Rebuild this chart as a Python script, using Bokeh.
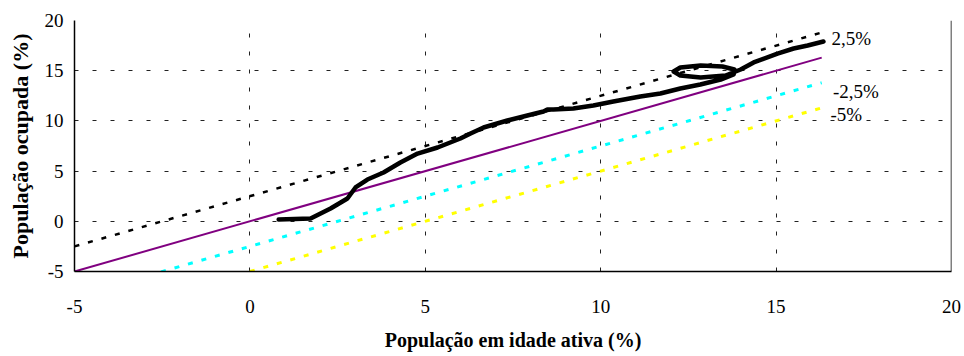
from bokeh.plotting import figure
from bokeh.models import Range1d, FixedTicker, Label, Span
from bokeh.embed import file_html
from bokeh.resources import INLINE

# ---- data ----
x_ticks = [-5, 0, 5, 10, 15, 20]
y_ticks = [-5, 0, 5, 10, 15, 20]
tick_text = {-5: "-5", 0: "0", 5: "5", 10: "10", 15: "15", 20: "20"}

# reference lines (endpoints)
ref_pos_x = [-5, 16.3]
ref_pos_y = [-2.5, 18.8]      # +2,5%
ref_zero_x = [-5, 16.3]
ref_zero_y = [-5, 16.3]       # 0%
ref_neg25_x = [-3.3, 16.3]
ref_neg25_y = [-5.8, 13.8]    # -2,5%
ref_neg5_x = [0, 16.3]
ref_neg5_y = [-5, 11.3]       # -5%

# observed path
curve_x = [0.82, 1.73, 2.30, 2.78, 3.01, 3.35, 3.81, 4.29, 4.78, 5.35, 6.00, 6.29,
           6.66, 7.34, 7.91, 8.37, 8.48, 8.65, 9.22, 9.79, 10.36, 11.13, 11.70,
           12.27, 12.84, 13.42, 13.79, 13.81, 13.47, 12.85, 12.27, 12.08, 12.27,
           12.85, 13.56, 13.99, 14.36, 15.04, 15.50, 15.90, 16.35]
curve_y = [0.18, 0.28, 1.27, 2.27, 3.37, 4.16, 4.86, 5.86, 6.75, 7.35, 8.25, 8.75,
           9.34, 10.04, 10.54, 10.94, 11.14, 11.14, 11.24, 11.53, 11.93, 12.43, 12.73,
           13.23, 13.63, 14.12, 14.62, 15.12, 15.42, 15.52, 15.32, 14.92, 14.52,
           14.32, 14.52, 15.12, 15.82, 16.71, 17.21, 17.51, 17.91]

line_labels = ["2,5%", "-2,5%", "-5%"]
label_x = [16.58, 16.62, 16.55]
label_y = [18.2, 12.9, 10.6]

FONT = "'Liberation Serif', 'Times New Roman', serif"

p = figure(width=964, height=356, output_backend="svg", toolbar_location=None,
           x_range=Range1d(-5, 20), y_range=Range1d(-5, 20),
           min_border_left=74, min_border_right=13, min_border_top=20,
           min_border_bottom=85)
p.outline_line_color = None
p.background_fill_color = "white"
p.border_fill_color = "white"

for ax in (p.xaxis[0], p.yaxis[0]):
    ax.major_label_text_font = FONT
    ax.major_label_text_font_size = "19px"
    ax.major_label_text_color = "black"
    ax.axis_label_text_font = FONT
    ax.axis_label_text_font_style = "bold"
    ax.axis_label_text_color = "black"
    ax.axis_line_color = "black"
    ax.axis_line_width = 1.5
    ax.minor_tick_line_color = None
    ax.major_tick_in = 0
    ax.major_label_overrides = tick_text

p.xaxis.ticker = FixedTicker(ticks=x_ticks)
p.yaxis.ticker = FixedTicker(ticks=y_ticks)
p.xaxis.major_tick_out = 0
p.yaxis.major_tick_out = 0
p.xaxis.major_label_standoff = 28
p.yaxis.major_label_standoff = 11
p.xaxis.axis_label = "População em idade ativa (%)"
p.yaxis.axis_label = "População ocupada (%)"
p.xaxis.axis_label_text_font_size = "20px"
p.yaxis.axis_label_text_font_size = "22px"
p.xaxis.axis_label_standoff = 13
p.yaxis.axis_label_standoff = 9

for g in (p.xgrid[0], p.ygrid[0]):
    g.grid_line_color = "#222222"
    g.grid_line_dash = "4 14"
    g.grid_line_width = 1

p.add_layout(Span(location=20, dimension="height", line_color="black", line_width=1.5))

p.line(ref_zero_x, ref_zero_y, line_color="#800080", line_width=2)
p.line(ref_neg25_x, ref_neg25_y, line_color="#00FFFF", line_width=3, line_dash="5 9")
p.line(ref_neg5_x, ref_neg5_y, line_color="#FFFF00", line_width=3, line_dash="5 9")
p.line(ref_pos_x, ref_pos_y, line_color="black", line_width=2.5, line_dash="5 9")
p.line(curve_x, curve_y, line_color="black", line_width=4.5,
       line_join="round", line_cap="round")

for t, lx, ly in zip(line_labels, label_x, label_y):
    p.add_layout(Label(x=lx, y=ly, text=t, text_font=FONT, text_font_size="19px",
                       text_color="black", text_baseline="middle", text_align="left"))

open("out.html", "w").write(file_html(p, INLINE))
